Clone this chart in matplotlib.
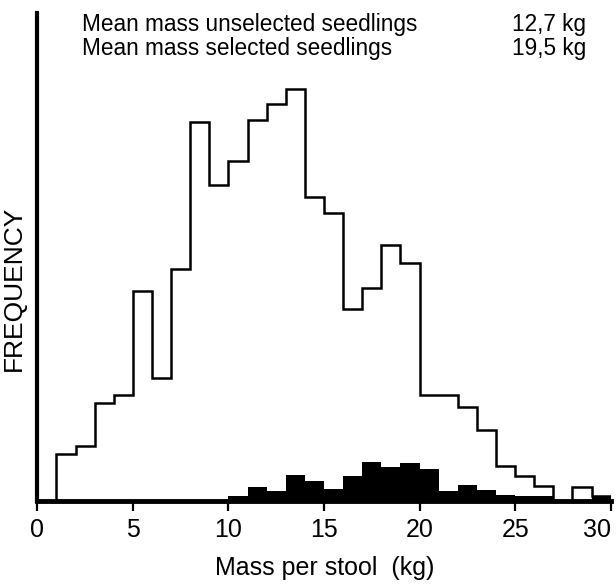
import matplotlib.pyplot as plt
import numpy as np

plt.rcParams['font.family'] = ['Liberation Sans', 'DejaVu Sans']

# 1 kg classes, 0..30 kg
edges = np.arange(0, 31)
# frequencies (arbitrary units)
unselected = [0, 47, 55, 98, 106, 210, 123, 232, 379, 316,
              340, 381, 397, 412, 304, 288, 192, 213, 256, 238,
              106, 106, 94, 71, 35, 25, 15, 0, 14, 5]
selected = [0, 0, 0, 0, 0, 0, 0, 0, 0, 0,
            5, 14, 10, 26, 20, 12, 25, 39, 34, 38,
            32, 10, 16, 11, 6, 5, 5, 0, 0, 5]
xticks = [0, 5, 10, 15, 20, 25, 30]

fig = plt.figure(figsize=(6.16, 5.86), dpi=100)
ax = fig.add_axes([37.3 / 616, 85 / 586, (610.7 - 37.3) / 616, 488 / 586])

ax.stairs(selected, edges, fill=True, color='black', lw=0)
ax.stairs(unselected, edges, color='black', lw=1.8)

ax.set_xlim(0, 30)
ax.set_ylim(0, 488)
for s in ['top', 'right']:
    ax.spines[s].set_visible(False)
ax.spines['left'].set_linewidth(3)
ax.spines['bottom'].set_linewidth(3.5)
ax.set_yticks([])
ax.set_xticks(xticks)
ax.set_xticklabels([str(t) for t in xticks], fontsize=18)
ax.get_xticklabels()[-1].set_horizontalalignment('right')
ax.tick_params(axis='x', direction='out', length=7, width=1.6, pad=5)

fig.text(14 / 616, 1 - 288 / 586, 'FREQUENCY', rotation=90, fontsize=19,
         ha='center', va='center')
fig.text(325 / 616, 1 - 568 / 586, 'Mass per stool  (kg)', fontsize=18,
         ha='center', va='center')

fig.text(82 / 616, 1 - 24 / 586, 'Mean mass unselected seedlings', fontsize=16.3,
         ha='left', va='center')
fig.text(512 / 616, 1 - 24 / 586, '12,7 kg', fontsize=16.3, ha='left', va='center')
fig.text(82 / 616, 1 - 48 / 586, 'Mean mass selected seedlings', fontsize=16.3,
         ha='left', va='center')
fig.text(512 / 616, 1 - 48 / 586, '19,5 kg', fontsize=16.3, ha='left', va='center')

fig.savefig('out.png', dpi=100)
